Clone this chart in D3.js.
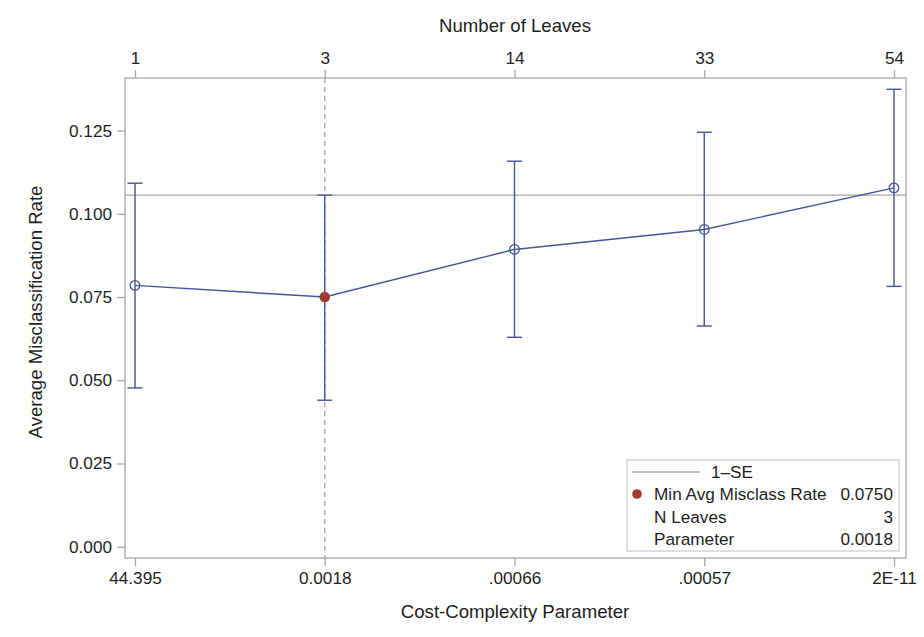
<!DOCTYPE html>
<html>
<head>
<meta charset="utf-8">
<script src="https://cdn.jsdelivr.net/npm/d3@7"></script>
<style>
  html, body { margin: 0; padding: 0; background: #fff; }
  svg { display: block; font-family: "Liberation Sans", Arial, sans-serif; }
</style>
</head>
<body>
<svg id="chart" width="924" height="637"></svg>
<script>
// Cross-validation results for the cost-complexity pruning sequence
const leafCounts = ["1", "3", "14", "33", "54"];
const ccParams = ["44.395", "0.0018", ".00066", ".00057", "2E-11"];
const avgRate = [0.0785, 0.0750, 0.0893, 0.0953, 0.1078];
const lowerRate = [0.0477, 0.0440, 0.0629, 0.0663, 0.0782];
const upperRate = [0.1092, 0.1056, 0.1158, 0.1245, 0.1374];
const yTicks = [0, 0.025, 0.05, 0.075, 0.1, 0.125];
const oneSE = 0.1056;
const minIndex = 1;
const legendRows = [
  ["Min Avg Misclass Rate", "0.0750"],
  ["N Leaves", "3"],
  ["Parameter", "0.0018"]
];

const svg = d3.select("#chart");
const frame = { left: 125, right: 906, top: 78, bottom: 558 };
const blue = "#445694";
const red = "#a23a2e";
const axisGray = "#a3a6a8";
const textColor = "#1e1e1e";
const tickFont = 17.2;
const titleFont = 18.6;

const idx = d3.range(leafCounts.length);
const x = d3.scalePoint().domain(idx).range([135, 894]);
const y = d3.scaleLinear().domain([-0.0034, 0.1408]).range([frame.bottom, frame.top]);

// Plot frame
svg.append("rect")
  .attr("x", frame.left).attr("y", frame.top)
  .attr("width", frame.right - frame.left).attr("height", frame.bottom - frame.top)
  .attr("fill", "none").attr("stroke", axisGray).attr("stroke-width", 1.3);

function styleAxis(g) {
  g.select(".domain").remove();
  g.selectAll(".tick line").attr("stroke", axisGray).attr("stroke-width", 1.3);
  g.selectAll(".tick text").attr("fill", textColor).attr("font-size", tickFont)
    .attr("font-family", "Liberation Sans, Arial, sans-serif");
}

// Left axis
svg.append("g")
  .attr("transform", `translate(${frame.left},0)`)
  .call(d3.axisLeft(y).tickValues(yTicks).tickFormat(d3.format(".3f")).tickSize(8).tickPadding(5))
  .call(styleAxis);

// Bottom axis: cost-complexity parameter
svg.append("g")
  .attr("transform", `translate(0,${frame.bottom})`)
  .call(d3.axisBottom(x).tickFormat(i => ccParams[i]).tickSize(8).tickPadding(6))
  .call(styleAxis);

// Top axis: number of leaves
svg.append("g")
  .attr("transform", `translate(0,${frame.top})`)
  .call(d3.axisTop(x).tickFormat(i => leafCounts[i]).tickSize(8).tickPadding(6))
  .call(styleAxis);

// Axis titles
svg.append("text").attr("x", 515).attr("y", 32).attr("text-anchor", "middle")
  .attr("font-size", titleFont).attr("fill", textColor).text("Number of Leaves");
svg.append("text").attr("x", 515).attr("y", 618).attr("text-anchor", "middle")
  .attr("font-size", titleFont).attr("fill", textColor).text("Cost-Complexity Parameter");
svg.append("text")
  .attr("transform", "translate(42,312) rotate(-90)")
  .attr("text-anchor", "middle").attr("font-size", titleFont).attr("fill", textColor)
  .text("Average Misclassification Rate");

// 1-SE reference line
svg.append("line")
  .attr("x1", frame.left).attr("x2", frame.right)
  .attr("y1", y(oneSE)).attr("y2", y(oneSE))
  .attr("stroke", axisGray).attr("stroke-width", 1.4);

// Vertical reference at the selected subtree
svg.append("line")
  .attr("x1", x(minIndex)).attr("x2", x(minIndex))
  .attr("y1", frame.top).attr("y2", frame.bottom)
  .attr("stroke", axisGray).attr("stroke-width", 1.3).attr("stroke-dasharray", "5,4");

// Error bars
const bars = svg.append("g").attr("stroke", blue).attr("stroke-width", 1.4).attr("fill", "none");
idx.forEach(i => {
  const cx = x(i);
  bars.append("line").attr("x1", cx).attr("x2", cx).attr("y1", y(lowerRate[i])).attr("y2", y(upperRate[i]));
  bars.append("line").attr("x1", cx - 7.5).attr("x2", cx + 7.5).attr("y1", y(upperRate[i])).attr("y2", y(upperRate[i]));
  bars.append("line").attr("x1", cx - 7.5).attr("x2", cx + 7.5).attr("y1", y(lowerRate[i])).attr("y2", y(lowerRate[i]));
});

// Connecting line
svg.append("path")
  .datum(idx)
  .attr("d", d3.line().x(i => x(i)).y(i => y(avgRate[i])))
  .attr("fill", "none").attr("stroke", blue).attr("stroke-width", 1.4);

// Markers
svg.append("g").selectAll("circle")
  .data(idx.filter(i => i !== minIndex))
  .join("circle")
  .attr("cx", i => x(i)).attr("cy", i => y(avgRate[i])).attr("r", 4.8)
  .attr("fill", "none").attr("stroke", blue).attr("stroke-width", 1.3);
svg.append("circle")
  .attr("cx", x(minIndex)).attr("cy", y(avgRate[minIndex])).attr("r", 5.3)
  .attr("fill", red);

// Legend
const lg = svg.append("g");
lg.append("rect").attr("x", 627).attr("y", 460).attr("width", 272).attr("height", 91)
  .attr("fill", "#fff").attr("stroke", "#c8cacc").attr("stroke-width", 1.2);
lg.append("line").attr("x1", 632).attr("x2", 700).attr("y1", 472).attr("y2", 472)
  .attr("stroke", axisGray).attr("stroke-width", 1.4);
lg.append("text").attr("x", 711).attr("y", 478).attr("font-size", tickFont).attr("fill", textColor).text("1\u2013SE");
lg.append("circle").attr("cx", 637).attr("cy", 494).attr("r", 4.8).attr("fill", red);
legendRows.forEach((row, k) => {
  const ty = 500 + k * 22.5;
  lg.append("text").attr("x", 654).attr("y", ty).attr("font-size", tickFont).attr("fill", textColor).text(row[0]);
  lg.append("text").attr("x", 893).attr("y", ty).attr("text-anchor", "end")
    .attr("font-size", tickFont).attr("fill", textColor).text(row[1]);
});
</script>
</body>
</html>
